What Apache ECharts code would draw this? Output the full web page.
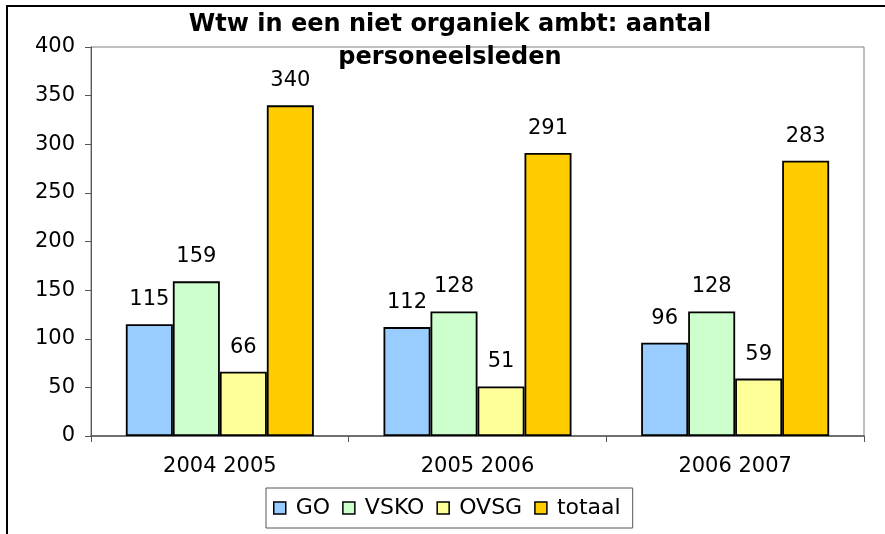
<!DOCTYPE html>
<html>
<head>
<meta charset="utf-8">
<script src="https://cdn.jsdelivr.net/npm/echarts@6/dist/echarts.min.js"></script>
<style>
html,body{margin:0;padding:0;background:#fff;}
#c{width:885px;height:534px;}
</style>
</head>
<body>
<div id="c"></div>
<script>
var categories = ['2004 2005', '2005 2006', '2006 2007'];
var seriesNames = ['GO', 'VSKO', 'OVSG', 'totaal'];
var goValues = [115, 112, 96];
var vskoValues = [159, 128, 128];
var ovsgValues = [66, 51, 59];
var totaalValues = [340, 291, 283];
var colors = ['#99CCFF', '#CCFFCC', '#FFFF99', '#FFCC00'];
var titleText = 'Wtw in een niet organiek ambt: aantal\npersoneelsleden';

var FONT = 'DejaVu Sans';
var chart = echarts.init(document.getElementById('c'), null, {renderer: 'canvas'});

function makeSeries(name, data, color) {
  return {
    name: name,
    type: 'bar',
    data: data,
    barWidth: 47,
    barGap: '0%',
    itemStyle: {color: color, borderColor: '#000', borderWidth: 1.8},
    label: {
      show: true,
      position: 'top',
      distance: 14,
      color: '#000',
      fontFamily: FONT,
      fontSize: 21
    },
    emphasis: {disabled: true},
    animation: false
  };
}

var allValues = [goValues, vskoValues, ovsgValues, totaalValues];
var series = seriesNames.map(function (n, i) { return makeSeries(n, allValues[i], colors[i]); });

chart.setOption({
  animation: false,
  backgroundColor: '#fff',
  title: {
    text: titleText,
    left: 450,
    top: 8,
    padding: 0,
    textAlign: 'center',
    textStyle: {
      fontFamily: FONT,
      fontSize: 24,
      fontWeight: 'bold',
      color: '#000',
      lineHeight: 33
    }
  },
  grid: {
    left: 91, right: 21, top: 47, bottom: 98,
    show: true,
    borderColor: '#808080',
    borderWidth: 1,
    backgroundColor: 'transparent'
  },
  legend: {
    data: seriesNames,
    left: 266,
    top: 488,
    orient: 'horizontal',
    padding: [9, 12, 9, 7],
    itemWidth: 12,
    itemHeight: 12,
    itemGap: 12,
    icon: 'rect',
    borderColor: '#555',
    borderWidth: 1,
    itemStyle: {borderColor: '#000', borderWidth: 1.5},
    textStyle: {fontFamily: FONT, fontSize: 22, color: '#000', padding: [0, 0, 0, 5]}
  },
  xAxis: {
    type: 'category',
    data: categories,
    axisLine: {show: true, lineStyle: {color: '#555', width: 1.5}},
    axisTick: {show: true, length: 6, lineStyle: {color: '#555'}},
    axisLabel: {fontFamily: FONT, fontSize: 21, color: '#000', margin: 20},
    splitLine: {show: false}
  },
  yAxis: {
    type: 'value',
    min: 0,
    max: 400,
    interval: 50,
    axisLine: {show: true, lineStyle: {color: '#555', width: 1}},
    axisTick: {show: true, length: 6, lineStyle: {color: '#555'}},
    axisLabel: {fontFamily: FONT, fontSize: 21, color: '#000', margin: 16},
    splitLine: {show: false}
  },
  graphic: [{
    type: 'rect',
    shape: {x: 7, y: 6, width: 1000, height: 1000},
    style: {fill: 'none', stroke: '#000', lineWidth: 2},
    silent: true,
    z: 100
  }],
  series: series
});
</script>
</body>
</html>
